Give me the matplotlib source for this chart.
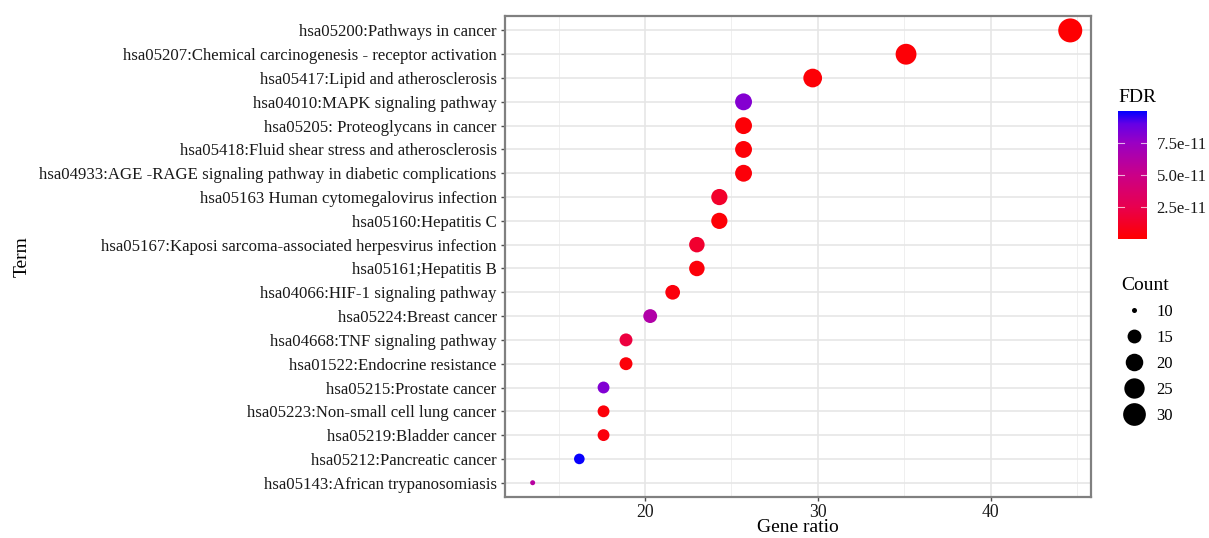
import matplotlib
matplotlib.use('Agg')
import matplotlib.pyplot as plt
import numpy as np
from matplotlib.colors import LinearSegmentedColormap, Normalize
from matplotlib.lines import Line2D

plt.rcParams['font.family'] = ['Liberation Serif', 'DejaVu Serif']

# KEGG terms, top to bottom
terms = [
    'hsa05200:Pathways in cancer',
    'hsa05207:Chemical carcinogenesis - receptor activation',
    'hsa05417:Lipid and atherosclerosis',
    'hsa04010:MAPK signaling pathway',
    'hsa05205: Proteoglycans in cancer',
    'hsa05418:Fluid shear stress and atherosclerosis',
    'hsa04933:AGE -RAGE signaling pathway in diabetic complications',
    'hsa05163 Human cytomegalovirus infection',
    'hsa05160:Hepatitis C',
    'hsa05167:Kaposi sarcoma-associated herpesvirus infection',
    'hsa05161;Hepatitis B',
    'hsa04066:HIF-1 signaling pathway',
    'hsa05224:Breast cancer',
    'hsa04668:TNF signaling pathway',
    'hsa01522:Endocrine resistance',
    'hsa05215:Prostate cancer',
    'hsa05223:Non-small cell lung cancer',
    'hsa05219:Bladder cancer',
    'hsa05212:Pancreatic cancer',
    'hsa05143:African trypanosomiasis',
]
counts = [33, 26, 22, 19, 19, 19, 19, 18, 18, 17, 17, 16, 15, 14, 14, 13, 13, 13, 12, 10]
gene_ratio = [44.6, 35.1, 29.7, 25.7, 25.7, 25.7, 25.7, 24.3, 24.3, 23.0, 23.0, 21.6,
              20.3, 18.9, 18.9, 17.6, 17.6, 17.6, 16.2, 13.5]
fdr = [0.1e-11, 0.2e-11, 0.2e-11, 8.1e-11, 0.2e-11, 0.2e-11, 0.3e-11, 1.4e-11, 0.2e-11, 1.5e-11,
       0.3e-11, 0.4e-11, 6.3e-11, 2.0e-11, 0.3e-11, 8.2e-11, 0.3e-11, 0.4e-11, 9.9e-11, 6.0e-11]
fdr_ticks = [2.5e-11, 5.0e-11, 7.5e-11]
count_breaks = [10, 15, 20, 25, 30]

# red -> blue like ggplot's gradient (through magenta)
cmap = LinearSegmentedColormap.from_list(
    'rb', [(0, '#FF0000'), (0.25, '#E8004F'), (0.5, '#CA0088'), (0.75, '#9A00C3'), (0.9, '#6400E6'), (1, '#0000FF')])
norm = Normalize(vmin=0, vmax=1.0e-10)

cmin, cmax = min(counts), max(counts)


def diam_px(c):
    return 5 + 19 * np.sqrt(max(c - cmin, 0) / (cmax - cmin))


def size_pt2(c):
    return (diam_px(c) * 0.72) ** 2


fig = plt.figure(figsize=(12.09, 5.38), dpi=100)
ax = fig.add_axes([0.4177, 0.0762, 0.4847, 0.8938])

y = np.arange(len(terms))[::-1]
ax.set_axisbelow(True)
ax.scatter(gene_ratio, y, s=[size_pt2(c) for c in counts], c=fdr, cmap=cmap, norm=norm,
           linewidths=0, zorder=3)

ax.set_xlim(11.9, 45.8)
ax.set_ylim(-0.6, len(terms) - 0.4)
ax.set_xticks([20, 30, 40])
ax.set_xticks([15, 25, 35, 45], minor=True)
ax.set_yticks(y)
ax.set_yticklabels(terms, fontsize=12.1, color='#1a1a1a')
ax.tick_params(axis='x', labelsize=12.8, colors='#4d4d4d', labelcolor='#1a1a1a', length=3, width=1, pad=2)
ax.tick_params(axis='y', colors='#4d4d4d', labelcolor='#1a1a1a', length=3, width=1, pad=3)
ax.tick_params(which='minor', length=0)
ax.grid(which='major', color='#E6E6E6', linewidth=1.2)
ax.grid(which='minor', axis='x', color='#EFEFEF', linewidth=0.7)
for sp in ax.spines.values():
    sp.set_color('#808080')
    sp.set_linewidth(1.6)
ax.set_xlabel('Gene ratio', fontsize=14, va='center')
ax.xaxis.set_label_coords(0.5, -31 / 481)
ax.set_ylabel('Term', fontsize=14, labelpad=8)
ax.yaxis.set_label_coords(-0.81, 0.5)

# colour bar
cax = fig.add_axes([1118 / 1209, 1 - 239 / 538, 29 / 1209, 128 / 538])
sm = plt.cm.ScalarMappable(norm=norm, cmap=cmap)
cb = fig.colorbar(sm, cax=cax, ticks=fdr_ticks)
cb.outline.set_visible(False)
cb.ax.set_yticklabels(['2.5e-11', '5.0e-11', '7.5e-11'], fontsize=12, color='#1a1a1a')
cb.ax.tick_params(length=0, pad=7)
for t in fdr_ticks:
    cax.plot([0, 0.2], [t, t], color='white', lw=0.8, alpha=0.7, transform=cax.get_yaxis_transform())
    cax.plot([0.8, 1], [t, t], color='white', lw=0.8, alpha=0.7, transform=cax.get_yaxis_transform())
fig.text(1118 / 1209, 1 - 97 / 538, 'FDR', fontsize=14, va='center', ha='left')

# size legend
handles = [Line2D([], [], marker='o', linestyle='none', color='black', markeredgewidth=0,
                  markersize=diam_px(c) * 0.72) for c in count_breaks]
leg = fig.legend(handles, [str(c) for c in count_breaks], title='Count', loc='upper left',
                 bbox_to_anchor=(1106 / 1209, 1 - 262 / 538), frameon=False, fontsize=12,
                 title_fontsize=14, labelspacing=0.6, handletextpad=0.6, handlelength=1.5)
leg._legend_box.align = 'left'

fig.savefig('out.png', dpi=100)
